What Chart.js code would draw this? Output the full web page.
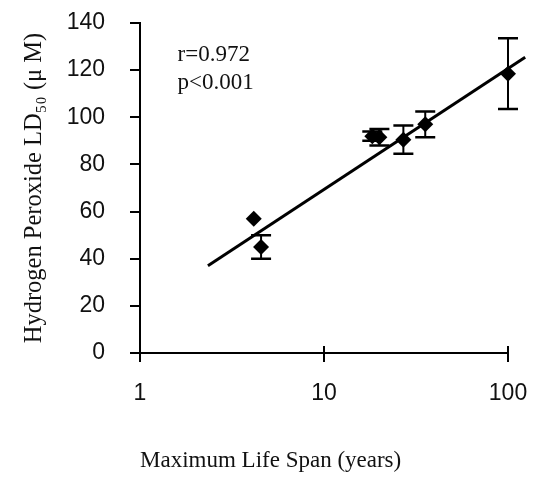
<!DOCTYPE html>
<html><head><meta charset="utf-8">
<script src="https://cdn.jsdelivr.net/npm/chart.js@4/dist/chart.umd.min.js"></script>
<style>html,body{margin:0;padding:0;background:#fff}#wrap{width:539px;height:479px}</style>
</head><body><div id="wrap"><canvas id="c" width="539" height="479"></canvas></div>
<script>
// Data
const lifeSpan = [4.15, 4.55, 18.3, 20, 27, 35.5, 100];      // years
const ld50     = [57, 45, 92, 91.5, 90.5, 97, 118.5];        // µM
const ld50Err  = [0, 5, 2, 3.5, 6, 5.5, 15];                 // ± µM
const fitX = [2.34, 124];        // regression line end points (years)
const fitY = [37, 125.5];        // regression line end points (µM)
const xTicks = [1, 10, 100];
const yTicks = [0, 20, 40, 60, 80, 100, 120, 140];
const stats = ['r=0.972', 'p<0.001'];
const statsPos = { x: 1.6, y: [126.5, 114.5] };
const xTitle = 'Maximum Life Span (years)';
const yTitle = 'Hydrogen Peroxide LD\u2085\u2080 (\u03bc M)';

const INK = '#000';
const serif = '"Liberation Serif", "Times New Roman", serif';
const sans = '"Liberation Sans", Arial, sans-serif';

const errorBars = {
  id: 'errorBars',
  afterDatasetsDraw(chart) {
    const {ctx, scales: {x, y}} = chart;
    ctx.save();
    ctx.strokeStyle = INK;
    lifeSpan.forEach((v, i) => {
      const e = ld50Err[i];
      if (!e) return;
      const px = x.getPixelForValue(v);
      const top = y.getPixelForValue(ld50[i] + e);
      const bot = y.getPixelForValue(ld50[i] - e);
      ctx.lineWidth = 2;
      ctx.beginPath(); ctx.moveTo(px, top); ctx.lineTo(px, bot); ctx.stroke();
      ctx.lineWidth = 2.5;
      ctx.beginPath();
      ctx.moveTo(px - 10, top); ctx.lineTo(px + 10, top);
      ctx.moveTo(px - 10, bot); ctx.lineTo(px + 10, bot);
      ctx.stroke();
    });
    ctx.restore();
  }
};

const extras = {
  id: 'extras',
  afterDraw(chart) {
    const {ctx, scales: {x, y}} = chart;
    ctx.save();
    // inner half of x-axis tick marks (ticks cross the axis)
    ctx.strokeStyle = INK; ctx.lineWidth = 2;
    const b = chart.chartArea.bottom;
    xTicks.forEach(v => {
      const px = x.getPixelForValue(v);
      ctx.beginPath(); ctx.moveTo(px, b - 7); ctx.lineTo(px, b); ctx.stroke();
    });
    // statistics annotation
    ctx.fillStyle = '#111';
    ctx.font = '23px ' + serif;
    ctx.textAlign = 'left'; ctx.textBaseline = 'middle';
    stats.forEach((t, i) => {
      ctx.fillText(t, x.getPixelForValue(statsPos.x), y.getPixelForValue(statsPos.y[i]));
    });
    ctx.restore();
  }
};

new Chart(document.getElementById('c'), {
  type: 'scatter',
  data: {
    datasets: [
      {
        type: 'line',
        data: fitX.map((v, i) => ({x: v, y: fitY[i]})),
        borderColor: INK, borderWidth: 3, pointRadius: 0, clip: false, fill: false
      },
      {
        data: lifeSpan.map((v, i) => ({x: v, y: ld50[i]})),
        pointStyle: 'rectRot', pointRadius: 8, pointHoverRadius: 8, clip: false,
        backgroundColor: INK, borderColor: INK, borderWidth: 0
      }
    ]
  },
  options: {
    responsive: false, devicePixelRatio: 1, animation: false,
    layout: { padding: { left: 0, top: 23, right: 31, bottom: 0 } },
    plugins: { legend: { display: false }, tooltip: { enabled: false } },
    scales: {
      x: {
        type: 'logarithmic', min: 1, max: 100,
        afterBuildTicks: s => { s.ticks = xTicks.map(v => ({value: v, major: true})); },
        afterFit: s => { s.height = 126; s.paddingLeft = 0; s.paddingRight = 0; },
        ticks: { callback: v => String(v), font: { family: sans, size: 23 }, color: '#111', padding: 18, maxRotation: 0, autoSkip: false },
        grid: { drawOnChartArea: false, drawTicks: true, tickLength: 9, color: INK, lineWidth: 2 },
        border: { display: true, color: INK, width: 2 },
        title: { display: true, text: xTitle, align: 'start', color: '#111',
                 font: { family: serif, size: 23 }, padding: { top: 0, bottom: 4 } }
      },
      y: {
        type: 'linear', min: 0, max: 140,
        afterBuildTicks: s => { s.ticks = yTicks.map(v => ({value: v})); },
        afterFit: s => { s.width = 140; s.paddingTop = 0; s.paddingBottom = 0; },
        ticks: { font: { family: sans, size: 23 }, color: '#111', padding: 25 },
        grid: { drawOnChartArea: false, drawTicks: true, tickLength: 10, color: INK, lineWidth: 2 },
        border: { display: true, color: INK, width: 2 },
        title: { display: true, text: yTitle, color: '#111',
                 font: { family: serif, size: 24.5 }, padding: { top: 20, bottom: 0 } }
      }
    }
  },
  plugins: [errorBars, extras]
});
</script>
</body></html>
